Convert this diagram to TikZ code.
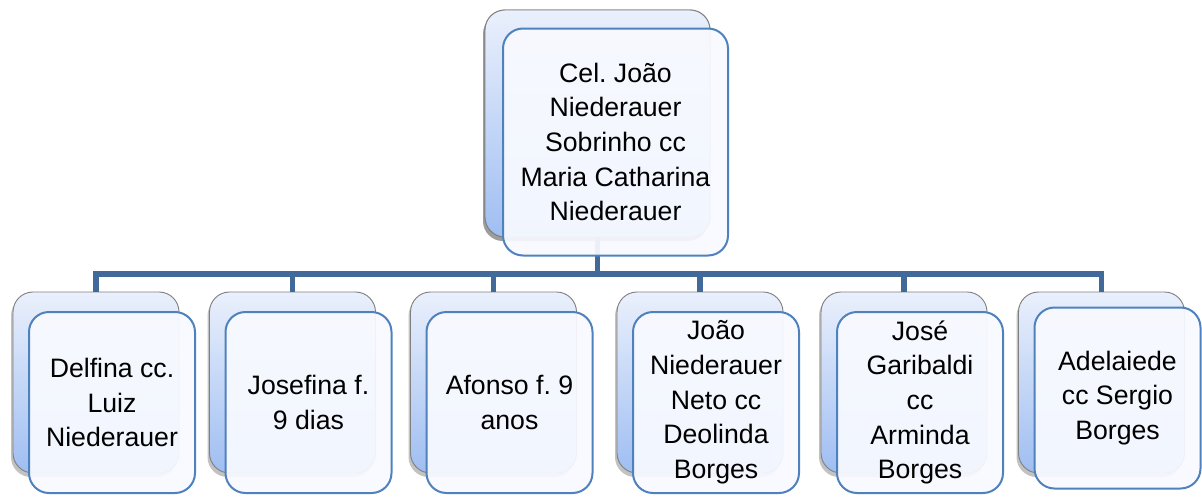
\documentclass[tikz,border=0pt]{standalone}
\usepackage{fontspec}
\setmainfont{Liberation Sans}
\usetikzlibrary{shadows}
\frenchspacing
\definecolor{backtop}{HTML}{EAF0FC}
\definecolor{backbot}{HTML}{9FBEF2}
\definecolor{backedge}{HTML}{808080}
\definecolor{frontfill}{HTML}{F8FAFF}
\definecolor{frontedge}{HTML}{4F81BD}
\definecolor{linkcol}{HTML}{41699A}
\tikzset{
  backbox/.style={draw=backedge, line width=0.7pt, rounded corners=15pt,
    top color=backtop, bottom color=backbot,
    drop shadow={shadow xshift=-1.5pt, shadow yshift=-3pt, opacity=0.4, fill=black!60},
    inner sep=0pt},
  frontbox/.style={draw=frontedge, line width=1.5pt, rounded corners=15pt,
    fill=frontfill, fill opacity=0.93, text opacity=1, inner sep=0pt,
    align=center, font=\fontsize{20}{26}\selectfont},
  childback/.style={backbox, minimum width=124.5pt, minimum height=135.75pt},
  childfront/.style={frontbox, minimum width=124.5pt, minimum height=135.75pt},
  link/.style={draw=linkcol, line width=3.8pt}
}
\begin{document}
\begin{tikzpicture}[x=0.75pt,y=-0.75pt]
\useasboundingbox (0,0) rectangle (1202,496);
% connectors coordinates
\coordinate (bar) at (597.5,274);
\coordinate (bl) at (96,274);
\coordinate (br) at (1101.5,274);
% top back box
\node[backbox, minimum width=168.75pt, minimum height=170.25pt] (topback) at (597.5,123.5) {};
% links
\draw[link] (topback.center) -- (bar);
\draw[link, line cap=rect] (bl) -- (br);
% children back boxes
\foreach \n/\x in {1/96,2/292.5,3/493.5,4/700,5/904,6/1101.5}{
  \coordinate (d\n) at (\x,274);
}
\node[childback] (b1) at (96,382.5) {};
\node[childback] (b2) at (292.5,382.5) {};
\node[childback] (b3) at (493.5,382.5) {};
\node[childback] (b4) at (700,382.5) {};
\node[childback] (b5) at (904,382.5) {};
\node[childback] (b6) at (1101.5,382.5) {};
\foreach \n in {1,...,6}{ \draw[link] (d\n) -- (b\n.north); }
% redraw top back over link start
\node[backbox, minimum width=168.75pt, minimum height=170.25pt] at (597.5,123.5) {};
% front boxes
\node[frontbox, minimum width=168.75pt, minimum height=170.25pt] (top) at (615.5,142)
  {Cel. João\\Niederauer\\Sobrinho cc\\Maria Catharina\\Niederauer};
\node[childfront] (c1) at (112,402.5) {Delfina cc.\\Luiz\\Niederauer};
\node[childfront] (c2) at (308.5,402.5) {Josefina f.\\9 dias};
\node[childfront] (c3) at (509.5,402.5) {Afonso f. 9\\anos};
\node[childfront] (c4) at (716,402.5) {João\\Niederauer\\Neto cc\\Deolinda\\Borges};
\node[childfront] (c5) at (920,402.5) {José\\Garibaldi\\cc\\Arminda\\Borges};
\node[childfront] (c6) at (1117.5,398) {Adelaiede\\cc Sergio\\Borges};
\end{tikzpicture}
\end{document}
